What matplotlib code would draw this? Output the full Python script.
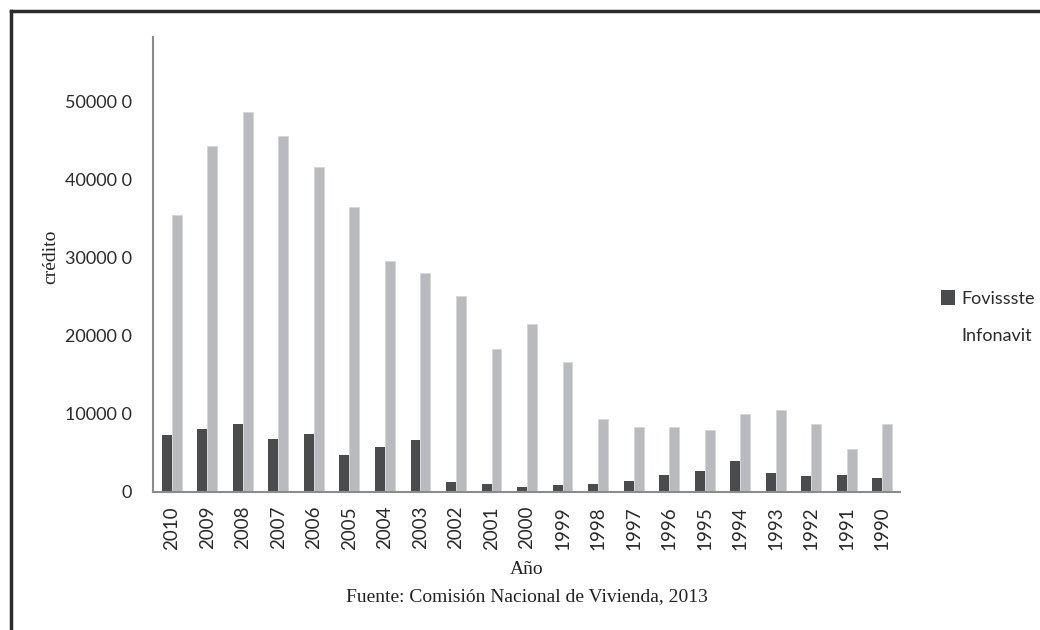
import numpy as np
from matplotlib import pyplot as plt
from matplotlib.lines import Line2D
from matplotlib.patches import Patch

years = ["2010", "2009", "2008", "2007", "2006", "2005", "2004", "2003", "2002", "2001", "2000",
         "1999", "1998", "1997", "1996", "1995", "1994", "1993", "1992", "1991", "1990"]
fovissste = [72700, 81300, 87700, 68400, 74900, 47000, 57700, 66300, 12800, 10700, 6400,
             8600, 10700, 13700, 22200, 26500, 39300, 24400, 20100, 22200, 18000]
infonavit = [354700, 443600, 486000, 456400, 416300, 365400, 295300, 280800, 250900, 183300, 215000,
             166200, 94000, 83300, 83300, 79100, 100500, 104700, 87700, 55600, 87700]
ytick_values = [0, 100000, 200000, 300000, 400000, 500000]
ytick_labels = ["0", "10000 0", "20000 0", "30000 0", "40000 0", "50000 0"]

dark = "#4a4b4d"
light = "#b9babd"
sans = ["Lato", "DejaVu Sans"]
serif = ["Liberation Serif", "DejaVu Serif"]

fig = plt.figure(figsize=(10.4, 6.3), dpi=100)
ax = fig.add_axes([153 / 1040, 1 - 492 / 630, (900 - 153) / 1040, (492 - 37) / 630])

x = np.arange(len(years))
w = 0.28
ax.bar(x - w / 2, fovissste, width=w, color=dark, label="Fovissste")
ax.bar(x + w / 2, infonavit, width=w, color=light, edgecolor="#d4d5d7", linewidth=0.6, label="Infonavit")

ax.set_xlim(-0.53, len(years) - 0.5)
ax.set_ylim(0, 582600)
ax.set_xticks(x)
ax.set_xticklabels(years, rotation=90, fontsize=13.5, family=sans, color="#2a2a2a")
ax.set_yticks(ytick_values)
ax.set_yticklabels(ytick_labels, fontsize=13, family=sans, color="#2a2a2a")
ax.tick_params(axis="both", length=0)
ax.tick_params(axis="y", pad=15)
ax.tick_params(axis="x", pad=10)

for s in ["top", "right"]:
    ax.spines[s].set_visible(False)
for s in ["left", "bottom"]:
    ax.spines[s].set_color("#8c8c8c")
    ax.spines[s].set_linewidth(1.5)

# axis titles and source note
fig.text(51 / 1040, 1 - 257 / 630, "crédito", rotation=90, ha="center", va="center",
         fontsize=14, family=serif, color="#222222")
fig.text(527 / 1040, 1 - 570 / 630, "Año", ha="center", va="center",
         fontsize=14, family=serif, color="#222222")
fig.text(527 / 1040, 1 - 597 / 630, "Fuente: Comisión Nacional de Vivienda, 2013", ha="center", va="center",
         fontsize=14, family=serif, color="#222222")

handles = [Patch(facecolor=dark, label="Fovissste"), Patch(facecolor="none", edgecolor="none", label="Infonavit")]
fig.legend(handles=handles, loc="center left", bbox_to_anchor=(932 / 1040, 1 - 317 / 630),
           frameon=False, prop={"family": sans, "size": 13}, handlelength=0.75, handleheight=0.9,
           handletextpad=0.35, labelspacing=1.15, borderpad=0, labelcolor="#2a2a2a")

# page frame (top and left edges)
fig.add_artist(Line2D([11 / 1040, 1], [1 - 11 / 630, 1 - 11 / 630], color="#2b2b2b", linewidth=2.5))
fig.add_artist(Line2D([11 / 1040, 11 / 1040], [0, 1 - 11 / 630], color="#2b2b2b", linewidth=2.5))

fig.savefig("out.png", dpi=100)
